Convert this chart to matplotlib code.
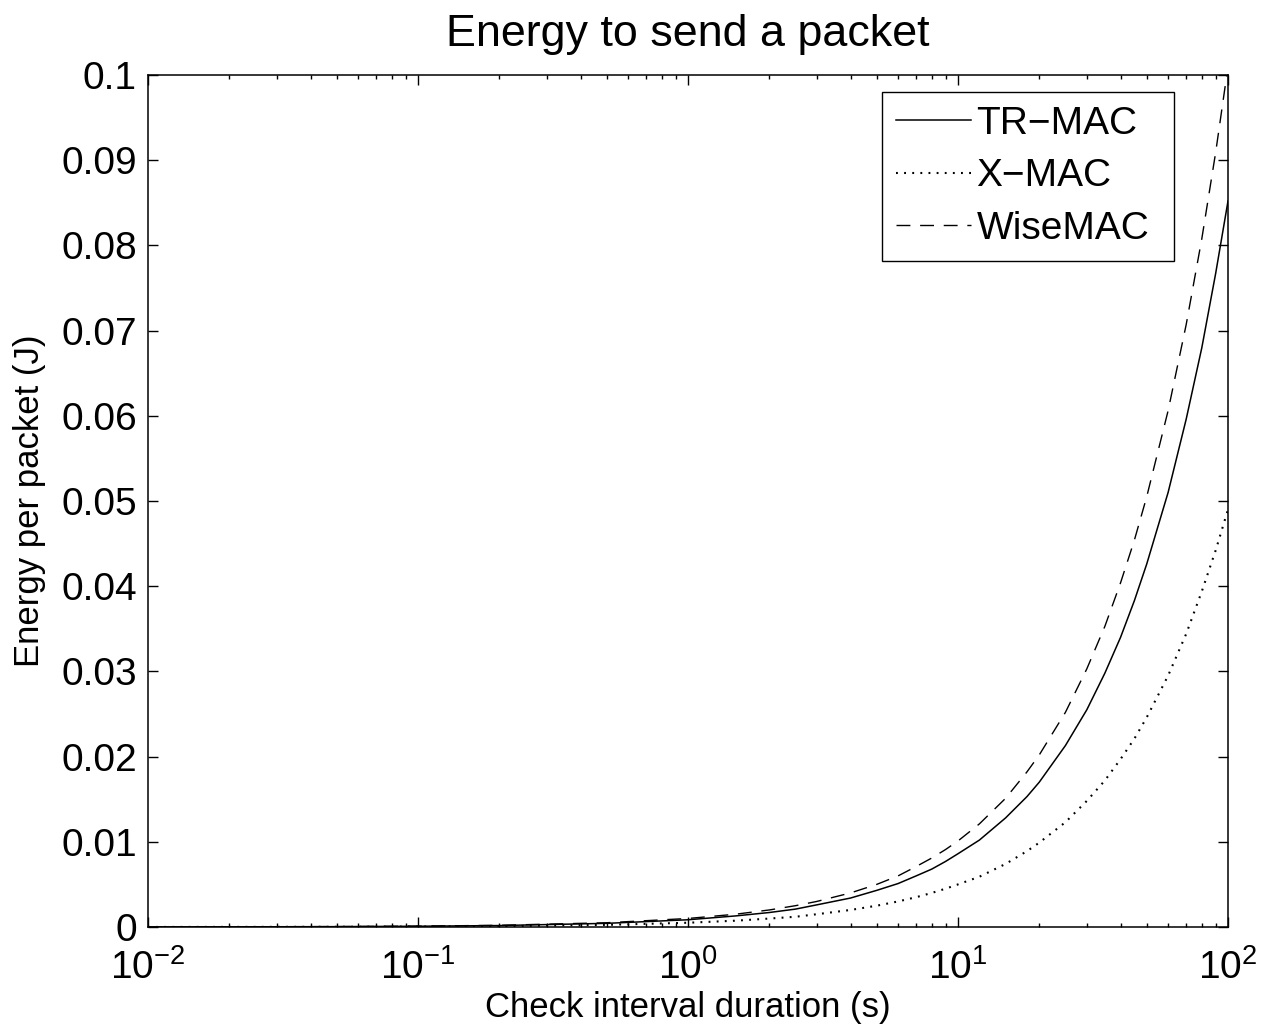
import matplotlib
matplotlib.use("Agg")
import matplotlib.pyplot as plt
from matplotlib.ticker import LogLocator, NullFormatter

plt.rcParams['font.family'] = ['Liberation Sans', 'DejaVu Sans']
plt.rcParams['mathtext.fontset'] = 'custom'
plt.rcParams['mathtext.rm'] = 'Liberation Sans'
plt.rcParams['mathtext.it'] = 'Liberation Sans'
plt.rcParams['mathtext.bf'] = 'Liberation Sans'

# check interval (s) and energy per packet (J)
interval = [0.01, 0.02, 0.05, 0.1, 0.2, 0.5, 1, 1.5, 2, 2.5, 3, 4, 5, 6, 7, 8, 9, 10,
            12, 15, 18, 20, 25, 30, 35, 40, 45, 50, 60, 70, 80, 90, 100]
tr_mac = [0.00001, 0.00002, 0.00004, 0.00009, 0.00017, 0.00043, 0.00085, 0.0013, 0.0017,
          0.0021, 0.0026, 0.0034, 0.0043, 0.0051, 0.006, 0.0068, 0.0077, 0.0086,
          0.0102, 0.0128, 0.0153, 0.017, 0.0213, 0.0255, 0.0298, 0.034, 0.0383, 0.0426,
          0.051, 0.0596, 0.068, 0.0767, 0.0852]
x_mac = [0.000005, 0.00001, 0.000025, 0.00005, 0.0001, 0.00025, 0.0005, 0.00074, 0.00099,
         0.0012, 0.0015, 0.002, 0.0025, 0.003, 0.0035, 0.004, 0.0045, 0.005,
         0.0059, 0.0074, 0.0089, 0.0099, 0.0123, 0.0148, 0.0172, 0.0197, 0.0221, 0.0246,
         0.0295, 0.0344, 0.0394, 0.0442, 0.049]
wise_mac = [0.00001, 0.00002, 0.00005, 0.0001, 0.0002, 0.0005, 0.001, 0.0015, 0.002,
            0.0025, 0.003, 0.004, 0.005, 0.006, 0.0071, 0.0081, 0.0091, 0.0101,
            0.0121, 0.0151, 0.0182, 0.0202, 0.0252, 0.0303, 0.0353, 0.0404, 0.0454, 0.0505,
            0.0606, 0.0707, 0.0808, 0.0909, 0.101]

yticks = [0, 0.01, 0.02, 0.03, 0.04, 0.05, 0.06, 0.07, 0.08, 0.09, 0.1]
ytick_labels = ['0', '0.01', '0.02', '0.03', '0.04', '0.05', '0.06', '0.07', '0.08', '0.09', '0.1']
xticks = [0.01, 0.1, 1, 10, 100]
xtick_labels = [r'$\mathregular{10^{-2}}$', r'$\mathregular{10^{-1}}$', r'$\mathregular{10^{0}}$',
                r'$\mathregular{10^{1}}$', r'$\mathregular{10^{2}}$']

fig = plt.figure(figsize=(12.63, 10.32), dpi=100)
ax = fig.add_axes([148/1263, 105/1032, 1080/1263, 852/1032])

ax.plot(interval, tr_mac, '-', color='black', lw=1.1, label='TR\u2212MAC')
ax.plot(interval, x_mac, color='black', lw=1.5, ls=(0, (0.9, 3.0)), label='X\u2212MAC')
ax.plot(interval, wise_mac, color='black', lw=1.0, ls=(0, (10, 7)), label='WiseMAC')

ax.set_xscale('log')
ax.set_xlim(0.01, 100)
ax.set_ylim(0, 0.1)
ax.set_xticks(xticks)
ax.set_xticklabels(xtick_labels)
ax.xaxis.set_minor_locator(LogLocator(base=10, subs=range(2, 10), numticks=20))
ax.xaxis.set_minor_formatter(NullFormatter())
ax.set_yticks(yticks)
ax.set_yticklabels(ytick_labels)

ax.tick_params(which='both', direction='in', top=True, right=True, width=1.0,
               labelsize=28)
ax.tick_params(which='major', length=7, pad=8)
ax.tick_params(which='minor', length=3)
ax.tick_params(axis='x', which='major', pad=16)
for s in ax.spines.values():
    s.set_linewidth(1.1)

ax.set_title('Energy to send a packet', fontsize=32.3, pad=21)
ax.set_xlabel('Check interval duration (s)', fontsize=25, labelpad=3)
ax.set_ylabel('Energy per packet (J)', fontsize=25, labelpad=11)

leg = ax.legend(loc='upper left', bbox_to_anchor=(0.680, 0.5, 0.270, 0.480), mode='expand',
                borderaxespad=0, fontsize=28, handlelength=1.93, handletextpad=0.13,
                labelspacing=0.42, borderpad=0.36, fancybox=False, framealpha=1)
leg.get_frame().set_edgecolor('black')
leg.get_frame().set_linewidth(1.0)

fig.savefig('out.png', dpi=100)
